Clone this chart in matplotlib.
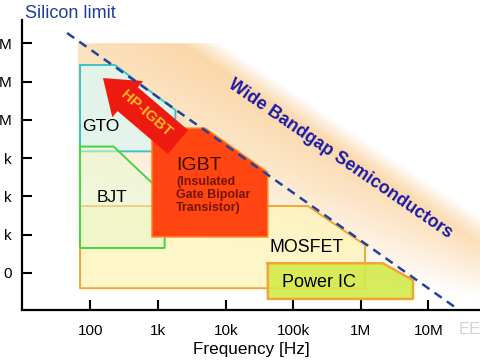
import numpy as np
import matplotlib.pyplot as plt
from matplotlib.patches import Polygon, FancyArrowPatch

plt.rcParams['font.family'] = ['Liberation Sans', 'DejaVu Sans']

# Areas of the power devices, corners as (frequency [Hz], power [VA])
gto_f = [70, 230, 1800, 1800, 70]
gto_p = [2.7e7, 2.7e7, 1.8e6, 1.5e5, 1.5e5]
bjt_f = [70, 220, 1250, 1250, 70]
bjt_p = [2.0e5, 2.0e5, 1.1e4, 450, 450]
mos_f = [70, 1.65e5, 1.15e6, 1.15e6, 70]
mos_p = [5600, 5600, 540, 40, 40]
pic_f = [4.2e4, 2.1e6, 5.9e6, 5.9e6, 4.2e4]
pic_p = [180, 180, 65, 21, 21]
igbt_f = [810, 5000, 4.2e4, 4.2e4, 810]
igbt_p = [6.1e5, 6.1e5, 4.3e4, 870, 870]

# wide bandgap band and silicon limit
wbg_f = [65, 8200, 5.8e7, 5.8e7, 65]
wbg_p = [1.0e8, 1.0e8, 2900, 11, 11]
si_f = [45, 2.6e7]
si_p = [1.85e8, 12]

# HP-IGBT arrow (tail -> tip)
hp_f = [1970, 153]
hp_p = [2.63e5, 1.23e7]

freq_ticks = [1e2, 1e3, 1e4, 1e5, 1e6, 1e7]
freq_labels = ['100', '1k', '10k', '100k', '1M', '10M']
# only the last character of each power label is visible in the picture
pow_ticks = [1e2, 1e3, 1e4, 1e5, 1e6, 1e7, 1e8]
pow_labels = ['0', 'k', 'k', 'k', 'M', 'M', 'M']

fig = plt.figure(figsize=(4.8, 3.6), dpi=100)
ax = fig.add_axes([22/480, 50/360, 458/480, 290/360])
ax.set_xscale('log')
ax.set_yscale('log')
ax.set_xlim(9.7, 5.78e7)
ax.set_ylim(10.8, 4.04e8)
ax.patch.set_alpha(0)

# orange gradient for the wide bandgap region
W, H = 458, 290
u, v = np.meshgrid(np.arange(W) + 0.5, np.arange(H) + 0.5)
px = 22 + u
py = 310 - v
d = (px - 220) * -0.556 + (py - 43) * 0.831
s = (px - 220) * 0.831 + (py - 43) * 0.556
L = np.clip(230 - 0.45 * s, 45, None)
t = 0.64 * np.clip(1 - d / L, 0, 1) ** 1.1 * np.clip(d / 22, 0, 1)
base = np.array([247, 186, 104]) / 255
img = 1 - t[..., None] * (1 - base)
im = ax.imshow(img, extent=[0, 1, 0, 1], transform=ax.transAxes,
               origin='lower', aspect='auto', zorder=0, interpolation='bilinear')
band = Polygon(np.column_stack([wbg_f, wbg_p]), closed=True,
               transform=ax.transData, facecolor='none', edgecolor='none')
ax.add_patch(band)
im.set_clip_path(band)


def area(f, p, face, edge, alpha, z, lw=1.4):
    ax.fill(f, p, facecolor=face, alpha=alpha, edgecolor='none', zorder=z)
    ax.plot(f + f[:1], p + p[:1], color=edge, lw=lw, zorder=z + 0.5)


area(gto_f, gto_p, '#e2f5ee', '#3ec3c3', 0.9, 2)
area(mos_f, mos_p, '#fdf4b8', '#f0a535', 0.75, 3)
area(bjt_f, bjt_p, '#e8f7cc', '#44d444', 0.55, 4)
area(pic_f, pic_p, '#d2ea4a', '#f0a535', 0.9, 5, lw=1.8)
area(igbt_f, igbt_p, '#ff4612', '#ff8c2a', 1.0, 6, lw=1.0)

ax.plot(si_f, si_p, color='#23449c', lw=1.8, ls=(0, (3.5, 2.5)), zorder=8)

arrow = FancyArrowPatch((hp_f[0], hp_p[0]), (hp_f[1], hp_p[1]),
                        arrowstyle='simple,head_length=1.3,head_width=1.9,tail_width=1.25',
                        mutation_scale=18, color='#ee1a12', lw=0, zorder=7,
                        shrinkA=0, shrinkB=0)
ax.add_patch(arrow)
ax.text(662, 1.42e6, 'HP-IGBT', rotation=-41, rotation_mode='anchor',
        ha='center', va='center', fontsize=11, fontweight='bold',
        color='#ffbb22', zorder=9)

ax.text(75, 6.5e5, 'GTO', fontsize=12.5, ha='left', va='center', zorder=9)
ax.text(125, 9.1e3, 'BJT', fontsize=12.5, ha='left', va='center', zorder=9)
ax.text(1840, 6.6e4, 'IGBT', fontsize=14, ha='left', va='center',
        color='#3c0800', zorder=9)
ax.text(1840, 3.5e4, '(Insulated\nGate Bipolar\nTransistor)', fontsize=9,
        fontweight='bold', ha='left', va='top', color='#761404',
        linespacing=1.12, zorder=9)
ax.text(4.5e4, 450, 'MOSFET', fontsize=12.8, ha='left', va='center', zorder=9)
ax.text(6.8e4, 55, 'Power IC', fontsize=13, ha='left', va='center', zorder=9)
ax.text(4.9e5, 9.5e4, 'Wide Bandgap Semiconductors', rotation=-34.5,
        rotation_mode='anchor', ha='center', va='center', fontsize=12.8,
        fontweight='bold', color='#1a1aa8', zorder=9)

ax.set_xticks(freq_ticks)
ax.set_xticklabels(freq_labels)
ax.set_yticks(pow_ticks)
ax.set_yticklabels(pow_labels)
ax.minorticks_off()
ax.tick_params(axis='both', direction='in', length=7, width=1.5,
               labelsize=11, pad=10)
ax.tick_params(axis='y', pad=7.5)
for sp in ['top', 'right']:
    ax.spines[sp].set_visible(False)
for sp in ['left', 'bottom']:
    ax.spines[sp].set_linewidth(1.6)
ax.set_xlabel('Frequency [Hz]', fontsize=12.3, labelpad=3)

fig.text(25/480, 1 - 13/360, 'Silicon limit', fontsize=13, color='#1f3f99',
         ha='left', va='center')
fig.text(459/480, 1 - 330/360, 'EE', fontsize=12, color='#d4d4d4',
         ha='left', va='center')

fig.savefig('out.png', dpi=100)
